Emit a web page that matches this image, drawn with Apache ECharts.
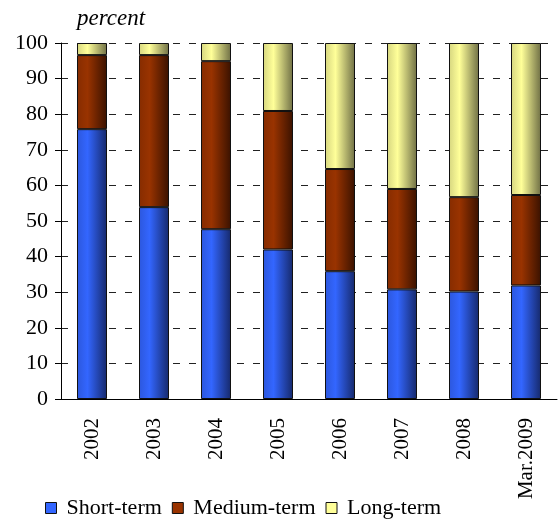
<!doctype html>
<html>
<head>
    <meta charset="utf-8">
    <title>debt structure</title>
    <script src="https://cdn.jsdelivr.net/npm/echarts@6/dist/echarts.min.js"></script>
</head>
<body style="margin:0;padding:0;background:#fff;">
    <div id="tb" style="width:560px;height:520px;"></div>
    <script>
        // 数据
        var years = ['2002', '2003', '2004', '2005', '2006', '2007', '2008', 'Mar.2009'];
        var shortTerm = [75.8, 53.9, 47.7, 42.0, 35.9, 30.8, 30.2, 31.9];
        var mediumTerm = [20.8, 42.7, 47.2, 38.9, 28.7, 28.2, 26.5, 25.4];
        var longTerm = [3.4, 3.4, 5.1, 19.1, 35.4, 41.0, 43.3, 42.7];

        var font = '"Liberation Serif", "Times New Roman", serif';

        // 柱子左右渐变
        function grad(a, b, c) {
            return new echarts.graphic.LinearGradient(0, 0, 1, 0, [
                { offset: 0, color: a },
                { offset: 0.35, color: b },
                { offset: 1, color: c }
            ]);
        }

        var chart = echarts.init(document.getElementById('tb'));
        var border = { borderColor: '#111', borderWidth: 1 };

        chart.setOption({
            animation: false,
            textStyle: { fontFamily: font },
            grid: { left: 61, right: 3, top: 43, bottom: 121 },
            legend: {
                top: 492,
                left: 40,
                itemWidth: 11,
                itemHeight: 11,
                itemGap: 10,
                icon: 'rect',
                textStyle: { fontFamily: font, fontSize: 22, color: '#000', padding: [0, 0, 0, 5] },
                data: [
                    { name: 'Short-term', itemStyle: { color: '#3366ff', borderColor: '#111', borderWidth: 1 } },
                    { name: 'Medium-term', itemStyle: { color: '#993300', borderColor: '#111', borderWidth: 1 } },
                    { name: 'Long-term', itemStyle: { color: '#ffff99', borderColor: '#111', borderWidth: 1 } }
                ]
            },
            graphic: [{
                type: 'text',
                left: 77,
                top: 7,
                style: { text: 'percent', font: 'italic 23px ' + font, fill: '#000' }
            }],
            xAxis: {
                type: 'category',
                data: years,
                axisLine: { lineStyle: { color: '#000' } },
                axisTick: { length: 5, lineStyle: { color: '#000' } },
                axisLabel: { rotate: 90, fontSize: 21, color: '#000', fontFamily: font, margin: 19 }
            },
            yAxis: {
                type: 'value',
                min: 0,
                max: 100,
                interval: 10,
                axisLine: { show: true, lineStyle: { color: '#000' } },
                axisTick: { show: true, length: 6, lineStyle: { color: '#000' } },
                axisLabel: { fontSize: 22, color: '#000', fontFamily: font, margin: 13 },
                splitLine: { lineStyle: { color: '#222', type: [7, 9], width: 1 } }
            },
            series: [{
                name: 'Short-term',
                type: 'bar',
                stack: 'a',
                barWidth: 30,
                itemStyle: Object.assign({ color: grad('#2c57dd', '#3366ff', '#16296b') }, border),
                data: shortTerm
            }, {
                name: 'Medium-term',
                type: 'bar',
                stack: 'a',
                itemStyle: Object.assign({ color: grad('#862c00', '#993300', '#3a1200') }, border),
                data: mediumTerm
            }, {
                name: 'Long-term',
                type: 'bar',
                stack: 'a',
                itemStyle: Object.assign({ color: grad('#d6d680', '#ffff99', '#6f6f45') }, border),
                data: longTerm
            }]
        });
    </script>
</body>
</html>
